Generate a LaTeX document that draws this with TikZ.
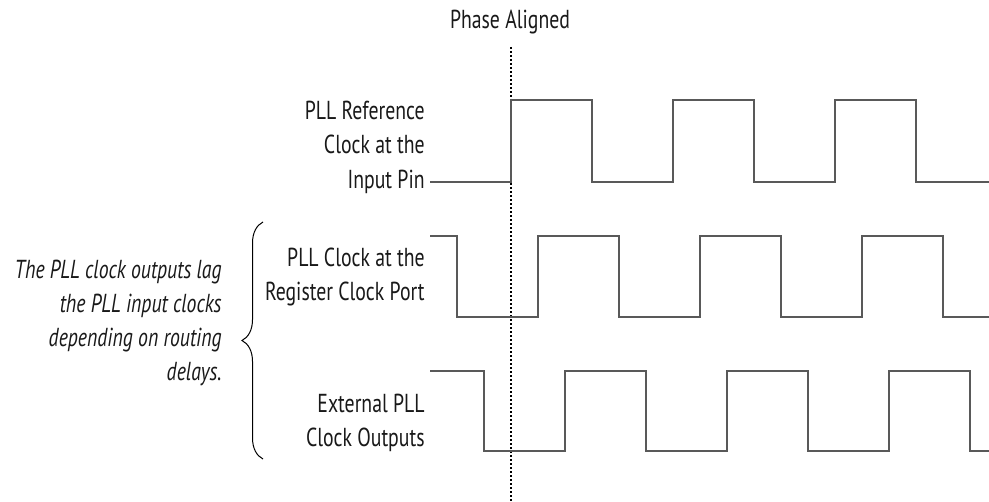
\documentclass[tikz,border=0pt]{standalone}
\usepackage{fontspec}
\setmainfont{PT Sans}[FakeStretch=0.76]
\usetikzlibrary{decorations.pathreplacing}

\begin{document}
\begin{tikzpicture}[x=0.5pt, y=-0.5pt, font=\fontsize{13}{17.2}\selectfont,
    wave/.style={line width=0.6pt, draw=black!65},
    label/.style={anchor=east, align=right, inner sep=0pt, text=black!90}]
    \useasboundingbox (0,0) rectangle (989,502);

    \node[inner sep=0pt, text=black!90] (phase) at (510,22) {Phase Aligned};
    \coordinate (aligntop) at (511,47);
    \coordinate (alignbot) at (511,502);
    \draw[line width=0.8pt, dash pattern=on 1pt off 1pt] (aligntop) -- (alignbot);

    \node[label] (refclk) at (425,147) {PLL Reference\\Clock at the\\Input Pin};
    \node[label] (regclk) at (425,277) {PLL Clock at the\\Register Clock Port};
    \node[label] (extclk) at (425,423) {External PLL\\Clock Outputs};
    \node[label, font=\fontsize{13}{17}\selectfont\itshape] (lag) at (222,323)
        {The PLL clock outputs lag\\the PLL input clocks\\depending on routing\\delays.};

    \coordinate (bracebot) at (263,459);
    \coordinate (bracetop) at (263,222);
    \draw[line width=0.5pt, decorate, decoration={brace, amplitude=10.5pt}] (bracebot) -- (bracetop);

    \coordinate (refstart) at (430,182);
    \draw[wave] (refstart) -- (511,182) -- (511,100) -- (592,100) -- (592,182) -- (673,182)
        -- (673,100) -- (754,100) -- (754,182) -- (835,182) -- (835,100) -- (916,100)
        -- (916,182) -- (989,182);

    \coordinate (regstart) at (430,236);
    \draw[wave] (regstart) -- (457,236) -- (457,317) -- (538,317) -- (538,236) -- (619,236)
        -- (619,317) -- (700,317) -- (700,236) -- (781,236) -- (781,317) -- (862,317)
        -- (862,236) -- (943,236) -- (943,317) -- (989,317);

    \coordinate (extstart) at (430,371);
    \draw[wave] (extstart) -- (484,371) -- (484,451) -- (565,451) -- (565,371) -- (646,371)
        -- (646,451) -- (727,451) -- (727,371) -- (808,371) -- (808,451) -- (889,451)
        -- (889,371) -- (970,371) -- (970,451) -- (989,451);
\end{tikzpicture}
\end{document}
